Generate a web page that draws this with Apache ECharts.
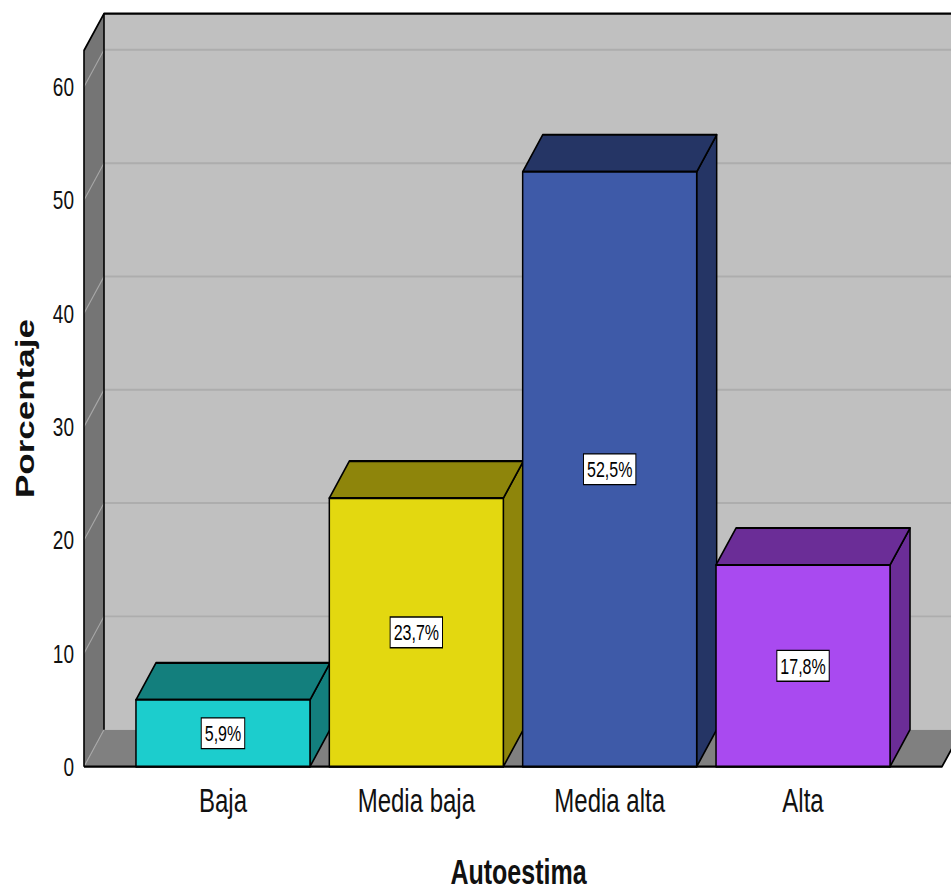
<!DOCTYPE html>
<html>
<head>
<meta charset="utf-8">
<script src="https://cdn.jsdelivr.net/npm/echarts@6/dist/echarts.min.js"></script>
<style>
  html, body { margin: 0; padding: 0; background: #fff; overflow: hidden; }
  #stage { width: 951px; height: 892px; overflow: hidden; position: relative; }
  /* the chart is laid out in a shorter box and stretched to full height */
  #chart { width: 951px; height: 637px; transform: scaleY(1.40031); transform-origin: 0 0; }
</style>
</head>
<body>
<div id="stage"><div id="chart"></div></div>
<script>
// Autoestima distribution (percent of respondents)
const categories = ['Baja', 'Media baja', 'Media alta', 'Alta'];
const percentages = [5.9, 23.7, 52.5, 17.8];
const yTicks = [0, 10, 20, 30, 40, 50, 60];
const yTop = 63.2;

const frontColors = ['#1ccdcd', '#e3d810', '#3e5aa8', '#a94af0'];
const shadeColors = ['#137f7d', '#8e850b', '#253565', '#6b2d97'];
const DX = 20, DY = -26.4;   // depth of the 3D box
const WALL_PAD = 42.3;       // frame overhang beyond the category band
const FONT = '"Liberation Sans", Arial, sans-serif';

function pct(v) { return v.toFixed(1).replace('.', ',') + '%'; }

// walls, floor, grid lines and frame edges
function renderFrame(params, api) {
  const cs = params.coordSys;
  const L = cs.x - WALL_PAD, R = cs.x + cs.width + WALL_PAD;
  const y0 = api.coord([0, 0])[1];
  const yT = api.coord([0, yTop])[1];
  const children = [];
  children.push({ type: 'rect', shape: { x: L + DX, y: yT + DY, width: R - L + 60, height: y0 - yT },
    style: { fill: '#c0c0c0' } });
  yTicks.forEach(t => {
    if (t === 0) return;
    const y = api.coord([0, t])[1];
    children.push({ type: 'line', shape: { x1: L + DX, y1: y + DY, x2: R + DX + 60, y2: y + DY },
      style: { stroke: '#adadad', lineWidth: 1.4 } });
  });
  children.push({ type: 'polygon', shape: { points: [[L, y0], [R, y0], [R + DX, y0 + DY], [L + DX, y0 + DY]] },
    style: { fill: '#808080' } });
  children.push({ type: 'polygon', shape: { points: [[L, yT], [L + DX, yT + DY], [L + DX, y0 + DY], [L, y0]] },
    style: { fill: '#757575' } });
  yTicks.forEach(t => {
    const y = api.coord([0, t])[1];
    children.push({ type: 'line', shape: { x1: L, y1: y, x2: L + DX, y2: y + DY },
      style: { stroke: '#a8a8a8', lineWidth: 1 } });
  });
  const edge = { stroke: '#000', lineWidth: 1.6, fill: null, lineJoin: 'round' };
  children.push({ type: 'polyline', shape: { points: [[L, y0], [L, yT], [L + DX, yT + DY], [R + DX + 60, yT + DY]] }, style: edge });
  children.push({ type: 'line', shape: { x1: L + DX, y1: yT + DY, x2: L + DX, y2: y0 + DY }, style: edge });
  children.push({ type: 'polyline', shape: { points: [[L, y0], [R, y0], [R + DX, y0 + DY]] }, style: edge });
  return { type: 'group', children };
}

// one 3D bar with its value label
function renderBar(params, api) {
  const i = api.value(0), v = api.value(1);
  const top = api.coord([i, v]);
  const cx = top[0], yT = top[1];
  const y0 = api.coord([i, 0])[1];
  const w = api.size([1, 0])[0] * 0.9;
  const x0 = cx - w / 2, x1 = cx + w / 2;
  const line = { stroke: '#000', lineWidth: 1.5, lineJoin: 'round' };
  return { type: 'group', children: [
    { type: 'polygon', shape: { points: [[x1, yT], [x1 + DX, yT + DY], [x1 + DX, y0 + DY], [x1, y0]] },
      style: Object.assign({ fill: shadeColors[i] }, line) },
    { type: 'polygon', shape: { points: [[x0, yT], [x1, yT], [x1 + DX, yT + DY], [x0 + DX, yT + DY]] },
      style: Object.assign({ fill: shadeColors[i] }, line) },
    { type: 'rect', shape: { x: x0, y: yT, width: w, height: y0 - yT },
      style: Object.assign({ fill: frontColors[i] }, line) },
    { type: 'text', x: cx, y: (yT + y0) / 2,
      style: { text: pct(v), font: '16px ' + FONT, fill: '#000', align: 'center', verticalAlign: 'middle',
        backgroundColor: '#fff', borderColor: '#000', borderWidth: 1, padding: [3, 3, 2, 3] } }
  ] };
}

const chart = echarts.init(document.getElementById('chart'), null, { renderer: 'svg' });
chart.setOption({
  animation: false,
  grid: { left: 126.3, right: 51.3, top: 36.1, bottom: 89.5, containLabel: false, outerBoundsMode: 'none' },
  xAxis: {
    type: 'category', data: categories,
    axisLine: { show: false }, axisTick: { show: false }, splitLine: { show: false },
    axisLabel: { margin: 12, fontSize: 24, color: '#111', fontFamily: FONT },
    name: 'Autoestima', nameLocation: 'middle', nameGap: 62,
    nameTextStyle: { fontSize: 25, fontWeight: 'bold', color: '#111', fontFamily: FONT, padding: [0, 0, 0, 11] }
  },
  yAxis: {
    type: 'value', min: 0, max: yTop, interval: 10, offset: WALL_PAD,
    axisLine: { show: false }, axisTick: { show: false }, splitLine: { show: false },
    axisLabel: { margin: 10, fontSize: 19, color: '#111', fontFamily: FONT, showMaxLabel: false },
    name: 'Porcentaje', nameLocation: 'middle', nameGap: 47, nameRotate: 90,
    nameTextStyle: { fontSize: 25, fontWeight: 'bold', color: '#111', fontFamily: FONT }
  },
  series: [
    { type: 'custom', renderItem: renderFrame, data: [[0, yTop]], encode: { x: 0, y: 1 }, z: 1, silent: true },
    { type: 'custom', renderItem: renderBar, data: percentages.map((v, i) => [i, v]), encode: { x: 0, y: 1 }, z: 2 }
  ]
});
</script>
</body>
</html>
